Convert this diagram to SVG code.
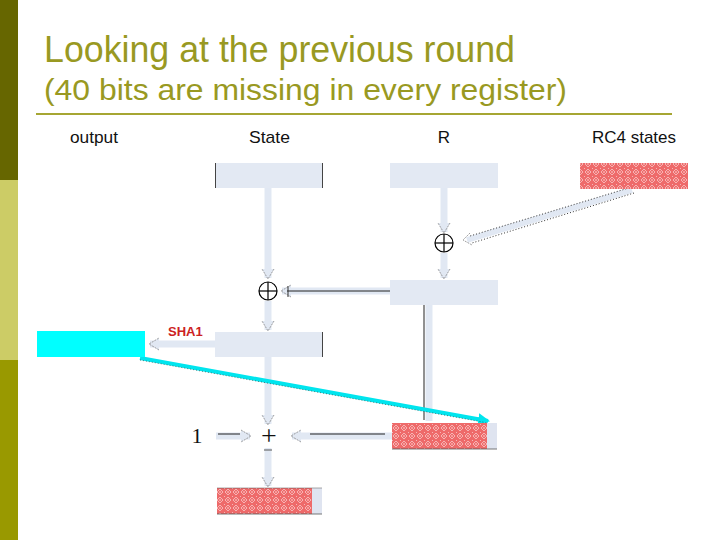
<svg xmlns="http://www.w3.org/2000/svg" width="720" height="540" viewBox="0 0 720 540">
<style>
.title{font-family:"Liberation Sans",Arial,sans-serif;fill:#999922}
.lbl{font-family:"Liberation Sans",Arial,sans-serif;font-size:17px;fill:#111}
.box{fill:#e3e9f3}
.side{stroke:#444;stroke-width:1}
.pipe{stroke:#e1e8f3;stroke-width:7;fill:none}
.thin{stroke:#222;stroke-width:1;fill:none}
.xor{fill:#fff;stroke:#000;stroke-width:1.2}
</style>
<defs>
<pattern id="redpat" width="8" height="8" patternUnits="userSpaceOnUse">
<rect width="8" height="8" fill="#ee6a6a"/>
<path d="M4 1 L7 4 L4 7 L1 4 Z" fill="none" stroke="#f8c8c8" stroke-width="0.8"/>
<circle cx="0" cy="0" r="0.9" fill="#fbdada"/>
<circle cx="4" cy="4" r="0.8" fill="#fbdada"/>
</pattern>
<marker id="ah" markerWidth="14" markerHeight="14" refX="10" refY="7" orient="auto" markerUnits="userSpaceOnUse">
<path d="M1 1 L11 7 L1 13" fill="#e1e8f3" stroke="#888" stroke-width="0.8" stroke-dasharray="2 1"/>
</marker>
<marker id="cyanah" markerWidth="14" markerHeight="14" refX="10" refY="7" orient="auto" markerUnits="userSpaceOnUse">
<path d="M0 1 L12 7 L0 13 Z" fill="#00e5ee"/>
</marker>
</defs>
<rect x="0" y="0" width="720" height="540" fill="#fff"/>
<rect x="0" y="0" width="18" height="180" fill="#666600"/>
<rect x="0" y="180" width="18" height="180" fill="#cccc66"/>
<rect x="0" y="360" width="18" height="180" fill="#999900"/>
<text class="title" x="44" y="62" font-size="36" textLength="471" lengthAdjust="spacingAndGlyphs">Looking at the previous round</text>
<text class="title" x="44" y="100" font-size="30" textLength="523" lengthAdjust="spacingAndGlyphs">(40 bits are missing in every register)</text>
<line x1="36" y1="114" x2="672" y2="114" stroke="#a6a633" stroke-width="2"/>
<text class="lbl" x="70" y="143" textLength="48" lengthAdjust="spacingAndGlyphs">output</text>
<text class="lbl" x="249" y="143" textLength="41" lengthAdjust="spacingAndGlyphs">State</text>
<text class="lbl" x="444" y="143" text-anchor="middle">R</text>
<text class="lbl" x="592" y="143" textLength="84" lengthAdjust="spacingAndGlyphs">RC4 states</text>
<g id="connectors">
<line class="pipe" x1="268" y1="188" x2="268" y2="278" marker-end="url(#ah)"/>
<line class="pipe" x1="444" y1="188" x2="444" y2="232" marker-end="url(#ah)"/>
<line x1="632" y1="190" x2="467" y2="240" stroke="#e1e8f3" stroke-width="6"/>
<line x1="632" y1="187" x2="470" y2="236" stroke="#333" stroke-width="1" stroke-dasharray="1 2"/>
<line x1="634" y1="193" x2="472" y2="243" stroke="#333" stroke-width="1" stroke-dasharray="1 2"/>
<path d="M470 233 L463 240 L472 245" fill="none" stroke="#888" stroke-width="0.8" stroke-dasharray="2 1"/>
<line class="pipe" x1="444" y1="253" x2="444" y2="278" marker-end="url(#ah)"/>
<line class="pipe" x1="390" y1="291" x2="282" y2="291" marker-end="url(#ah)"/>
<line class="thin" x1="390" y1="291" x2="287" y2="291"/>
<line x1="288" y1="286" x2="288" y2="297" stroke="#333" stroke-width="1"/>
<line class="pipe" x1="268" y1="301" x2="268" y2="330" marker-end="url(#ah)"/>
<line class="pipe" x1="215" y1="344" x2="150" y2="344" marker-end="url(#ah)"/>
<line class="pipe" x1="429" y1="305" x2="429" y2="421"/>
<line class="thin" x1="424" y1="305" x2="424" y2="420"/>
<line class="pipe" x1="268" y1="357" x2="268" y2="424" marker-end="url(#ah)"/>
<line x1="140" y1="358" x2="488" y2="421" stroke="#00e5ee" stroke-width="4" marker-end="url(#cyanah)"/>
<line x1="140" y1="360" x2="488" y2="423" stroke="#333" stroke-width="0.6" stroke-dasharray="1 2"/>
<line class="pipe" x1="216" y1="436" x2="250" y2="436" marker-end="url(#ah)"/>
<line class="thin" x1="218" y1="434" x2="240" y2="434"/>
<line class="pipe" x1="392" y1="436" x2="292" y2="436" marker-end="url(#ah)"/>
<line class="thin" x1="385" y1="434" x2="310" y2="434"/>
<line class="pipe" x1="268" y1="448" x2="268" y2="486" marker-end="url(#ah)"/>
<line x1="264" y1="450" x2="272" y2="450" stroke="#555" stroke-width="1"/>
</g>
<g id="state">
<rect class="box" x="215" y="163" width="108" height="25"/>
<line class="side" x1="215.5" y1="163" x2="215.5" y2="188"/>
<line class="side" x1="322.5" y1="163" x2="322.5" y2="188"/>
</g>
<g id="r">
<rect class="box" x="390" y="163" width="108" height="25"/>
</g>
<g id="rc4">
<rect x="580" y="163" width="108" height="26" fill="url(#redpat)"/>
</g>
<g id="xor1">
<circle class="xor" cx="444" cy="243" r="9"/>
<line x1="435" y1="243" x2="453" y2="243" stroke="#000" stroke-width="1.2"/>
<line x1="444" y1="234" x2="444" y2="252" stroke="#000" stroke-width="1.2"/>
</g>
<g id="r2">
<rect class="box" x="390" y="280" width="108" height="25"/>
</g>
<g id="xor2">
<circle class="xor" cx="268" cy="291" r="9"/>
<line x1="259" y1="291" x2="277" y2="291" stroke="#000" stroke-width="1.2"/>
<line x1="268" y1="282" x2="268" y2="300" stroke="#000" stroke-width="1.2"/>
</g>
<g id="sha1box">
<rect class="box" x="215" y="332" width="108" height="25"/>
<line class="side" x1="322.5" y1="332" x2="322.5" y2="357"/>
<text x="168" y="336" font-family="Liberation Sans,Arial,sans-serif" font-size="13" font-weight="bold" fill="#cc2222">SHA1</text>
</g>
<g id="output">
<rect x="37" y="331" width="108" height="26" fill="#00ffff"/>
</g>
<g id="plus">
<text x="269" y="445" font-family="Liberation Serif,serif" font-size="28" text-anchor="middle" fill="#111">+</text>
</g>
<g id="one">
<text x="197" y="443" font-family="Liberation Serif,serif" font-size="22" text-anchor="middle" fill="#111">1</text>
</g>
<g id="redbox">
<rect x="392" y="423" width="95" height="26" fill="url(#redpat)"/>
<rect x="487" y="423" width="10" height="26" fill="#dfe4f0"/>
<line x1="392" y1="449" x2="497" y2="449" stroke="#555" stroke-width="0.8"/>
</g>
<g id="result">
<rect x="217" y="488" width="95" height="26" fill="url(#redpat)"/>
<rect x="312" y="488" width="10" height="26" fill="#dfe4f0"/>
<line x1="217" y1="514" x2="322" y2="514" stroke="#555" stroke-width="0.8"/>
<line x1="217" y1="488" x2="322" y2="488" stroke="#555" stroke-width="0.5"/>
</g>
</svg>
